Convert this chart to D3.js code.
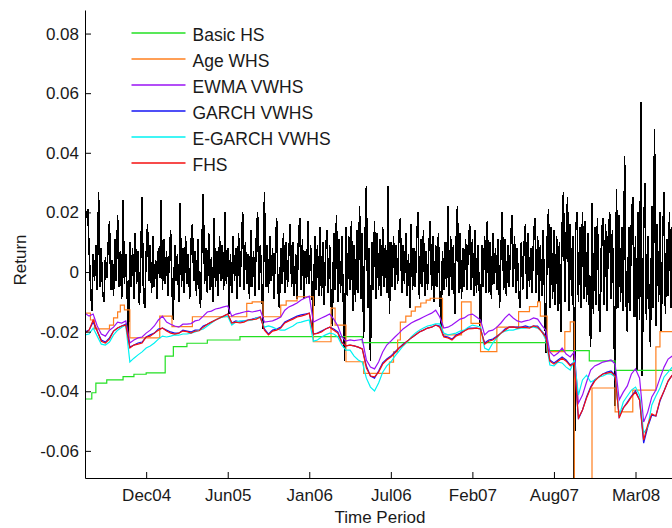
<!DOCTYPE html>
<html>
<head>
<meta charset="utf-8">
<script src="https://cdn.jsdelivr.net/npm/d3@7"></script>
<style>
  html, body { margin: 0; padding: 0; background: #fff; }
  svg { display: block; font-family: "Liberation Sans", Arial, Helvetica, sans-serif; }
</style>
</head>
<body>
<svg id="chart" width="672" height="528"></svg>
<script>
// ---- x axis: trading-day index, labelled every 60 days ----
const tickDays = [45, 105, 165, 225, 285, 345, 405];
const tickLabels = ["Dec04", "Jun05", "Jan06", "Jul06", "Feb07", "Aug07", "Mar08"];
const yTicks = [-0.06, -0.04, -0.02, 0, 0.02, 0.04, 0.06, 0.08];

// ---- daily portfolio returns ----
const returns = [
  0.020, 0.019, 0.021, 0.008, -0.004, -0.013, 0.006, -0.003, 0.009, -0.006, 0.027, -0.005,
  0.008, -0.007, -0.010, 0.005, -0.002, 0.009, 0.017, -0.006, 0.004, -0.008, 0.011, -0.003,
  0.019, -0.005, 0.007, -0.009, 0.024, -0.004, 0.006, -0.007, -0.022, 0.010, -0.005, 0.008,
  -0.009, 0.013, -0.004, 0.007, -0.011, 0.005, 0.025, -0.008, -0.012, 0.006, 0.016, -0.003,
  0.009, -0.007, 0.012, -0.005, 0.004, -0.009, 0.008, -0.002, 0.024, -0.006, 0.011, -0.004,
  0.007, -0.008, 0.005, 0.014, -0.006, -0.016, 0.009, -0.003, 0.006, -0.010, 0.023, -0.005,
  0.008, -0.007, 0.012, -0.004, 0.006, -0.009, 0.010, 0.016, -0.003, 0.007, -0.008, 0.011,
  -0.005, -0.012, 0.009, 0.026, -0.004, 0.008, -0.007, 0.013, -0.006, 0.005, -0.010, 0.018,
  -0.005, 0.007, -0.008, 0.012, -0.003, 0.009, -0.006, 0.020, -0.004, 0.008, -0.014, 0.006,
  -0.007, 0.012, -0.003, 0.008, -0.009, 0.013, -0.005, 0.007, 0.020, -0.006, 0.010, -0.004,
  0.006, -0.009, 0.014, -0.005, 0.007, -0.008, 0.011, 0.020, -0.006, 0.009, -0.004, -0.019,
  0.027, -0.005, 0.009, -0.007, 0.012, -0.003, 0.008, -0.009, 0.006, 0.018, -0.006, -0.012,
  0.008, -0.004, 0.013, -0.007, 0.010, -0.005, 0.007, 0.016, -0.005, 0.010, -0.008, 0.006,
  -0.009, 0.011, 0.018, -0.006, 0.011, -0.009, 0.007, -0.004, 0.017, -0.004, 0.009, -0.006,
  -0.020, 0.012, -0.006, 0.009, -0.008, 0.015, -0.008, 0.010, -0.011, 0.007, 0.014, -0.007,
  0.009, -0.010, -0.018, 0.013, -0.006, 0.019, -0.010, 0.011, -0.007, 0.012, -0.009, -0.030,
  0.015, -0.008, 0.012, -0.006, 0.017, -0.013, 0.009, -0.010, 0.014, -0.007, 0.022, -0.009,
  0.013, -0.022, 0.011, 0.029, -0.012, 0.008, -0.030, 0.010, -0.006, 0.017, -0.009, 0.013,
  -0.006, 0.011, -0.008, 0.015, -0.005, 0.009, -0.007, 0.029, -0.014, 0.010, -0.005, 0.012,
  -0.006, 0.009, -0.004, 0.013, 0.018, -0.007, 0.009, -0.004, 0.013, -0.008, 0.006, -0.012,
  0.016, -0.006, 0.008, -0.005, 0.011, 0.020, -0.009, 0.011, -0.005, 0.014, -0.008, 0.007,
  -0.006, 0.009, 0.017, -0.006, 0.012, -0.010, 0.009, -0.005, 0.013, -0.007, -0.019, 0.007,
  -0.006, 0.010, -0.005, 0.022, -0.008, 0.012, -0.006, 0.009, -0.014, 0.010, 0.022, -0.007,
  0.013, -0.009, 0.008, -0.005, 0.011, -0.006, 0.009, 0.016, -0.006, 0.011, -0.008, 0.014,
  -0.007, 0.009, -0.005, -0.021, 0.009, -0.005, 0.012, -0.007, 0.017, -0.007, 0.010, -0.009,
  0.013, -0.004, 0.008, -0.006, 0.011, -0.012, 0.007, 0.020, -0.006, 0.011, -0.008, 0.009,
  -0.005, 0.007, 0.019, -0.005, 0.012, -0.007, 0.008, -0.006, -0.012, 0.010, -0.006, 0.009,
  0.016, -0.009, 0.013, -0.005, 0.008, -0.007, 0.012, 0.018, -0.007, 0.012, -0.010, 0.009,
  -0.008, 0.014, -0.006, -0.027, 0.011, 0.021, -0.012, 0.015, -0.009, 0.014, -0.011, 0.012,
  -0.013, 0.010, -0.020, 0.015, 0.027, -0.010, 0.012, 0.025, -0.013, 0.016, -0.008, 0.012,
  -0.080, 0.014, 0.020, -0.010, 0.015, -0.012, 0.020, -0.009, 0.017, -0.010, 0.013, -0.011,
  -0.025, 0.023, -0.014, 0.015, -0.011, 0.018, -0.009, -0.020, 0.013, 0.018, -0.011, 0.016,
  -0.013, 0.012, 0.020, -0.009, 0.014, -0.012, -0.045, 0.028, -0.012, 0.019, -0.010, 0.015,
  -0.013, 0.039, -0.009, -0.020, 0.015, -0.013, 0.018, 0.025, -0.015, 0.012, -0.033, 0.020,
  -0.016, 0.057, -0.035, 0.014, 0.030, -0.016, 0.012, -0.010, -0.025, 0.022, -0.012, 0.048,
  -0.018, 0.016, -0.010, 0.020, -0.020, 0.012, 0.027, -0.014, 0.011, -0.008, 0.020, -0.012,
  0.015
];

// ---- Basic HS VaR: changes only at these days (step series) ----
const basicHSDays = [0, 5, 8, 16, 28, 36, 45, 59, 65, 75, 90, 114, 204, 340, 371, 390, 432];
const basicHS = [-0.0426, -0.0405, -0.0373, -0.0362, -0.0351, -0.0343, -0.0338, -0.0282, -0.0250,
  -0.0239, -0.0228, -0.0217, -0.0237, -0.0264, -0.0298, -0.0330, -0.0330];

// ---- Age-weighted HS VaR (step series) ----
const ageWHSDays = [0, 4, 7, 18, 21, 24, 26, 29, 33, 55, 64, 79, 119, 123, 131, 144, 148, 156, 168, 181,
  184, 192, 205, 224, 227, 230, 232, 236, 240, 243, 247, 251, 254, 263, 277, 284, 291, 303, 319, 327,
  333, 335, 340, 353, 357, 360, 373, 390, 403, 420, 423, 432];
const ageWHS = [-0.0138, -0.0161, -0.0191, -0.0178, -0.0154, -0.0134, -0.0111, -0.0127, -0.0221, -0.0148,
  -0.0183, -0.0150, -0.0105, -0.0100, -0.0150, -0.0111, -0.0097, -0.0083, -0.0234, -0.0121,
  -0.0178, -0.0301, -0.0340, -0.0302, -0.0268, -0.0228, -0.0168, -0.0148, -0.0131, -0.0117,
  -0.0104, -0.0094, -0.0088, -0.0211, -0.0100, -0.0172, -0.0267, -0.0185, -0.0133, -0.0116,
  -0.0100, -0.0148, -0.0267, -0.0200, -0.0167, -0.0750, -0.0389, -0.0469, -0.0396, -0.0251,
  -0.0200, -0.0200];

// ---- volatility-weighted VaR series, one value every 3 days ----
const varStep = 3;
const ewmaVWHS = [
  -0.0138, -0.0148, -0.0141, -0.0181, -0.0208, -0.0215, -0.0195, -0.0185, -0.0168, -0.0171,
  -0.0164, -0.0238, -0.0228, -0.0221, -0.0218, -0.0205, -0.0195, -0.0181, -0.0161, -0.0148,
  -0.0168, -0.0175, -0.0181, -0.0185, -0.0175, -0.0175, -0.0173, -0.0164, -0.0161, -0.0148,
  -0.0134, -0.0131, -0.0124, -0.0121, -0.0117, -0.0114, -0.0148, -0.0141, -0.0138, -0.0134,
  -0.0131, -0.0134, -0.0131, -0.0128, -0.0168, -0.0166, -0.0164, -0.0158, -0.0151, -0.0128,
  -0.0117, -0.0111, -0.0104, -0.0094, -0.0087, -0.0081, -0.0168, -0.0161, -0.0154, -0.0148,
  -0.0141, -0.0158, -0.0181, -0.0218, -0.0232, -0.0228, -0.0230, -0.0228, -0.0226, -0.0295,
  -0.0319, -0.0325, -0.0302, -0.0268, -0.0245, -0.0232, -0.0218, -0.0205, -0.0191, -0.0181,
  -0.0171, -0.0164, -0.0158, -0.0151, -0.0144, -0.0138, -0.0128, -0.0151, -0.0188, -0.0185,
  -0.0178, -0.0168, -0.0158, -0.0154, -0.0144, -0.0141, -0.0151, -0.0161, -0.0211, -0.0198,
  -0.0195, -0.0185, -0.0171, -0.0154, -0.0141, -0.0154, -0.0164, -0.0168, -0.0164, -0.0161,
  -0.0154, -0.0158, -0.0178, -0.0195, -0.0268, -0.0282, -0.0272, -0.0255, -0.0275, -0.0285,
  -0.0268, -0.0440, -0.0413, -0.0369, -0.0329, -0.0315, -0.0309, -0.0302, -0.0299, -0.0295,
  -0.0309, -0.0429, -0.0403, -0.0382, -0.0342, -0.0325, -0.0356, -0.0503, -0.0470, -0.0419,
  -0.0396, -0.0356, -0.0319, -0.0292, -0.0282
];
const garchVWHS = [
  -0.0201, -0.0195, -0.0168, -0.0198, -0.0228, -0.0235, -0.0221, -0.0198, -0.0188, -0.0181,
  -0.0175, -0.0252, -0.0245, -0.0238, -0.0235, -0.0218, -0.0211, -0.0205, -0.0191, -0.0188,
  -0.0195, -0.0201, -0.0205, -0.0205, -0.0195, -0.0198, -0.0201, -0.0195, -0.0195, -0.0181,
  -0.0175, -0.0168, -0.0161, -0.0154, -0.0148, -0.0141, -0.0171, -0.0164, -0.0168, -0.0164,
  -0.0161, -0.0158, -0.0154, -0.0151, -0.0191, -0.0208, -0.0195, -0.0191, -0.0185, -0.0168,
  -0.0161, -0.0154, -0.0148, -0.0144, -0.0141, -0.0138, -0.0208, -0.0205, -0.0198, -0.0191,
  -0.0185, -0.0191, -0.0201, -0.0235, -0.0248, -0.0245, -0.0248, -0.0252, -0.0258, -0.0315,
  -0.0349, -0.0356, -0.0332, -0.0305, -0.0292, -0.0282, -0.0268, -0.0255, -0.0242, -0.0232,
  -0.0221, -0.0211, -0.0201, -0.0195, -0.0188, -0.0185, -0.0178, -0.0181, -0.0215, -0.0218,
  -0.0225, -0.0211, -0.0205, -0.0198, -0.0188, -0.0188, -0.0188, -0.0191, -0.0238, -0.0228,
  -0.0225, -0.0215, -0.0205, -0.0191, -0.0185, -0.0185, -0.0185, -0.0185, -0.0181, -0.0185,
  -0.0181, -0.0181, -0.0198, -0.0215, -0.0295, -0.0305, -0.0295, -0.0285, -0.0295, -0.0312,
  -0.0302, -0.0493, -0.0463, -0.0419, -0.0386, -0.0362, -0.0352, -0.0342, -0.0336, -0.0332,
  -0.0346, -0.0486, -0.0456, -0.0436, -0.0416, -0.0399, -0.0429, -0.0574, -0.0520, -0.0480,
  -0.0483, -0.0433, -0.0399, -0.0366, -0.0346
];
const egarchVWHS = [
  -0.0211, -0.0208, -0.0188, -0.0215, -0.0242, -0.0245, -0.0235, -0.0211, -0.0195, -0.0185,
  -0.0178, -0.0302, -0.0289, -0.0278, -0.0268, -0.0255, -0.0248, -0.0238, -0.0225, -0.0215,
  -0.0218, -0.0215, -0.0211, -0.0212, -0.0208, -0.0208, -0.0205, -0.0201, -0.0195, -0.0191,
  -0.0181, -0.0171, -0.0161, -0.0154, -0.0151, -0.0148, -0.0178, -0.0168, -0.0164, -0.0164,
  -0.0163, -0.0161, -0.0154, -0.0154, -0.0185, -0.0181, -0.0185, -0.0191, -0.0195, -0.0195,
  -0.0188, -0.0181, -0.0171, -0.0168, -0.0164, -0.0161, -0.0232, -0.0228, -0.0218, -0.0211,
  -0.0205, -0.0208, -0.0218, -0.0245, -0.0262, -0.0262, -0.0282, -0.0295, -0.0302, -0.0356,
  -0.0386, -0.0399, -0.0372, -0.0336, -0.0315, -0.0302, -0.0282, -0.0265, -0.0248, -0.0235,
  -0.0218, -0.0205, -0.0195, -0.0188, -0.0181, -0.0178, -0.0174, -0.0174, -0.0205, -0.0211,
  -0.0208, -0.0205, -0.0198, -0.0195, -0.0185, -0.0178, -0.0181, -0.0185, -0.0255, -0.0262,
  -0.0238, -0.0221, -0.0205, -0.0198, -0.0195, -0.0195, -0.0191, -0.0188, -0.0188, -0.0185,
  -0.0185, -0.0188, -0.0198, -0.0228, -0.0312, -0.0315, -0.0302, -0.0305, -0.0319, -0.0329,
  -0.0295, -0.0413, -0.0362, -0.0346, -0.0369, -0.0362, -0.0352, -0.0349, -0.0342, -0.0342,
  -0.0352, -0.0483, -0.0436, -0.0416, -0.0396, -0.0386, -0.0413, -0.0540, -0.0520, -0.0446,
  -0.0416, -0.0389, -0.0352, -0.0336, -0.0319
];
const fhs = [
  -0.0205, -0.0195, -0.0161, -0.0198, -0.0232, -0.0238, -0.0225, -0.0198, -0.0188, -0.0181,
  -0.0178, -0.0255, -0.0245, -0.0242, -0.0238, -0.0218, -0.0215, -0.0205, -0.0195, -0.0188,
  -0.0198, -0.0205, -0.0208, -0.0205, -0.0198, -0.0200, -0.0205, -0.0198, -0.0197, -0.0185,
  -0.0175, -0.0168, -0.0161, -0.0154, -0.0148, -0.0141, -0.0171, -0.0168, -0.0171, -0.0168,
  -0.0161, -0.0160, -0.0158, -0.0151, -0.0195, -0.0211, -0.0198, -0.0195, -0.0188, -0.0171,
  -0.0164, -0.0158, -0.0151, -0.0148, -0.0144, -0.0138, -0.0208, -0.0206, -0.0201, -0.0191,
  -0.0185, -0.0195, -0.0205, -0.0238, -0.0248, -0.0245, -0.0248, -0.0252, -0.0258, -0.0322,
  -0.0349, -0.0352, -0.0336, -0.0309, -0.0295, -0.0285, -0.0272, -0.0255, -0.0245, -0.0232,
  -0.0221, -0.0211, -0.0201, -0.0195, -0.0188, -0.0185, -0.0178, -0.0185, -0.0218, -0.0221,
  -0.0228, -0.0215, -0.0208, -0.0198, -0.0191, -0.0190, -0.0188, -0.0191, -0.0242, -0.0232,
  -0.0228, -0.0218, -0.0205, -0.0195, -0.0185, -0.0184, -0.0188, -0.0185, -0.0186, -0.0188,
  -0.0181, -0.0185, -0.0201, -0.0218, -0.0299, -0.0309, -0.0299, -0.0289, -0.0299, -0.0315,
  -0.0305, -0.0490, -0.0463, -0.0423, -0.0389, -0.0366, -0.0352, -0.0342, -0.0339, -0.0336,
  -0.0349, -0.0490, -0.0456, -0.0440, -0.0419, -0.0403, -0.0429, -0.0564, -0.0513, -0.0476,
  -0.0483, -0.0429, -0.0399, -0.0366, -0.0346
];

const legendNames = ["Basic HS", "Age WHS", "EWMA VWHS", "GARCH VWHS", "E-GARCH VWHS", "FHS"];
const legendColors = ["#22e022", "#ff7f1e", "#9a12f5", "#1515f5", "#00f2f2", "#f50f0f"];

// ---- layout ----
const FONT = '"Liberation Sans", Arial, Helvetica, sans-serif';
const svg = d3.select("#chart");
const x = d3.scaleLinear().domain([0, 432]).range([85, 672.2]);
const y = d3.scaleLinear().domain([-0.0691, 0.0879]).range([478, 10]);

svg.append("defs").append("clipPath").attr("id", "plotClip")
  .append("rect").attr("x", 85).attr("y", 10).attr("width", 600).attr("height", 468);

const plot = svg.append("g").attr("clip-path", "url(#plotClip)");

const lineXY = d3.line().x(d => x(d[0])).y(d => y(d[1]));
const stepXY = d3.line().x(d => x(d[0])).y(d => y(d[1])).curve(d3.curveStepAfter);

// returns (drawn without anti-aliasing, like a screen plot)
plot.append("path")
  .datum(returns.map((v, i) => [i, v]))
  .attr("d", lineXY)
  .attr("shape-rendering", "crispEdges")
  .style("fill", "none").style("stroke", "#000").style("stroke-width", 1.6);

// step VaR series
plot.append("path")
  .datum(basicHSDays.map((d, i) => [d, basicHS[i]]))
  .attr("d", stepXY)
  .style("fill", "none").style("stroke", legendColors[0]).style("stroke-width", 1.2);

plot.append("path")
  .datum(ageWHSDays.map((d, i) => [d, ageWHS[i]]))
  .attr("d", stepXY)
  .style("fill", "none").style("stroke", legendColors[1]).style("stroke-width", 1.2);

// daily-updated VaR series
[ewmaVWHS, garchVWHS, egarchVWHS, fhs].forEach((series, j) => {
  plot.append("path")
    .datum(series.map((v, i) => [i * varStep, v]))
    .attr("d", lineXY)
    .style("fill", "none").style("stroke", legendColors[j + 2]).style("stroke-width", 1.2);
});

// ---- axes ----
const xAxis = d3.axisBottom(x)
  .tickValues(tickDays)
  .tickFormat((d, i) => tickLabels[i])
  .tickSizeInner(-6).tickSizeOuter(0).tickPadding(11);
const gx = svg.append("g").attr("transform", "translate(0,478)").call(xAxis);

const yAxis = d3.axisLeft(y)
  .tickValues(yTicks)
  .tickFormat(d => d === 0 ? "0" : d.toFixed(2))
  .tickSizeInner(-6).tickSizeOuter(0).tickPadding(6);
const gy = svg.append("g").attr("transform", "translate(85,0)").call(yAxis);

[gx, gy].forEach(g => {
  g.attr("font-family", FONT).attr("font-size", 17);
  g.selectAll("path, line").attr("stroke", "#000").attr("stroke-width", 1);
  g.selectAll("text").attr("fill", "#1a1a1a");
});

// axis titles
svg.append("text")
  .attr("x", 380).attr("y", 523)
  .attr("text-anchor", "middle")
  .attr("font-family", FONT).attr("font-size", 17).attr("fill", "#1a1a1a")
  .text("Time Period");

svg.append("text")
  .attr("transform", "translate(26,260) rotate(-90)")
  .attr("text-anchor", "middle")
  .attr("font-family", FONT).attr("font-size", 17).attr("fill", "#1a1a1a")
  .text("Return");

// ---- legend (no box) ----
const legend = svg.append("g").attr("class", "legend");
legendNames.forEach((name, j) => {
  const ly = Math.round(33.3 + j * 25.9);
  legend.append("path")
    .attr("d", `M131.5,${ly}H185.5`)
    .style("fill", "none")
    .style("stroke", legendColors[j])
    .style("stroke-width", 1.6);
  legend.append("text")
    .attr("x", 192.5).attr("y", ly + 8)
    .attr("font-family", FONT).attr("font-size", 17.5).attr("fill", "#1a1a1a")
    .text(name);
});
</script>
</body>
</html>
